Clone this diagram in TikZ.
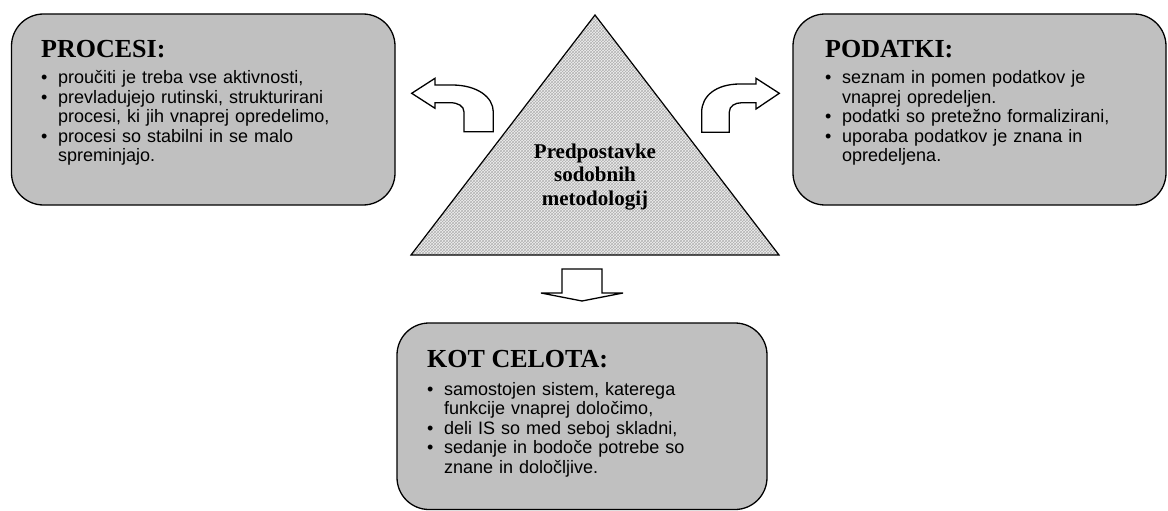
\documentclass[tikz,border=0pt]{standalone}
\usepackage{fontspec}
\setmainfont{Liberation Serif}
\setsansfont{Liberation Sans}
\usetikzlibrary{patterns}
\definecolor{boxgray}{RGB}{192,192,192}
\newcommand{\bul}[1]{\noindent\hangindent=17pt\hangafter=1\makebox[17pt][l]{\textbullet}#1\par}

\begin{document}
\begin{tikzpicture}
    [   x = 1pt, y = -1pt,
        box/.style = {draw, line width=1.3pt, fill=boxgray, rounded corners=32pt, inner sep=0pt},
        head/.style = {anchor=base west, inner sep=0pt, font=\fontsize{26}{28}\selectfont\bfseries},
        list/.style = {anchor=base west, inner sep=0pt, text width=330pt, font=\sffamily\fontsize{18}{19.5}\selectfont},
        barrow/.style = {draw, line width=1.3pt, fill=white, line join=miter}
    ]
    \useasboundingbox (0,0) rectangle (1168,511);
    % Boxes
    \node[box, minimum width=383.5pt, minimum height=191pt] (procesi) at (203.25,109.5) {};
    \node[box, minimum width=373pt, minimum height=191pt] (podatki) at (979.5,109.5) {};
    \node[box, minimum width=370pt, minimum height=186.5pt] (celota) at (582,416.25) {};
    % Triangle
    \fill[gray!12] (595,15) -- (411,255) -- (779,255) -- cycle;
    \draw[line width=1.2pt, pattern=crosshatch, pattern color=gray!60]
        (595,15) -- (411,255) -- (779,255) -- cycle;
    \node[anchor=base, inner sep=0pt, align=center, font=\fontsize{21}{23.5}\selectfont\bfseries]
        (tri) at (595,205) {Predpostavke\\sodobnih\\metodologij};
    % Arrows
    \draw[barrow] (411.7,93.3) -- (435,78.3) -- (435,85) -- (452,85)
        .. controls (477,85) and (493.3,97) .. (493.3,112) -- (493.3,131.7)
        -- (464,131.7) -- (464,112) .. controls (464,106) and (458,102.7) .. (450,102.7)
        -- (435,102.7) -- (435,108.3) -- cycle;
    \draw[barrow] (779.3,93.3) -- (756,78.3) -- (756,84) -- (740,84)
        .. controls (716,84) and (701.7,96) .. (701.7,112) -- (701.7,132.3)
        -- (729.3,132.3) -- (729.3,112) .. controls (729.3,106) and (735,102.7) .. (742,102.7)
        -- (756,102.7) -- (756,109) -- cycle;
    \draw[barrow] (562,269) -- (602,269) -- (602,293) -- (623,293) -- (582,301)
        -- (541,293) -- (562,293) -- cycle;
    % Procesi
    \node[head] (procesi-h) at (41,58) {PROCESI:};
    \node[list] (procesi-l) at (41,84) {%
        \bul{proučiti je treba vse aktivnosti,}
        \bul{prevladujejo rutinski, strukturirani\newline procesi, ki jih vnaprej opredelimo,}
        \bul{procesi so stabilni in se malo\newline spreminjajo.}};
    % Podatki
    \node[head] (podatki-h) at (825,58) {PODATKI:};
    \node[list] (podatki-l) at (825,84) {%
        \bul{seznam in pomen podatkov je\newline vnaprej opredeljen.}
        \bul{podatki so pretežno formalizirani,}
        \bul{uporaba podatkov je znana in\newline opredeljena.}};
    % Kot celota
    \node[head] (celota-h) at (427,367) {KOT CELOTA:};
    \node[list] (celota-l) at (427,395) {%
        \bul{samostojen sistem, katerega\newline funkcije vnaprej določimo,}
        \bul{deli IS so med seboj skladni,}
        \bul{sedanje in bodoče potrebe so\newline znane in določljive.}};
\end{tikzpicture}
\end{document}
